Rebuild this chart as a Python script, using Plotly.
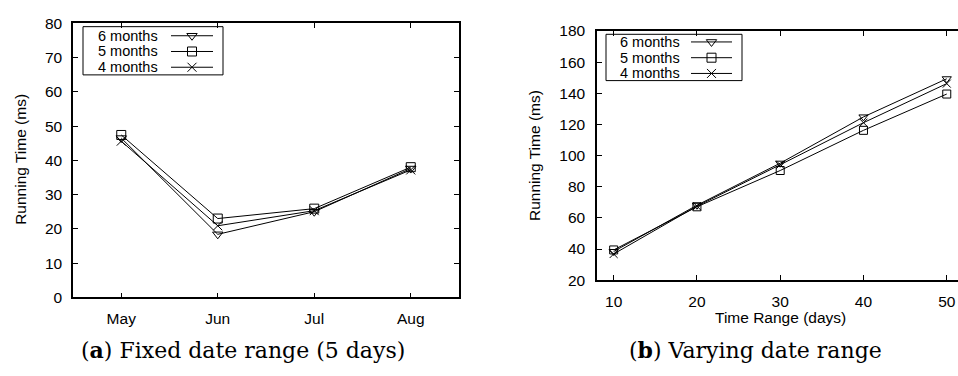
import plotly.graph_objects as go

W, H = 958, 376

# ---- data ----
months = ["May", "Jun", "Jul", "Aug"]
fixed_6 = [46.5, 18.4, 25.0, 37.6]
fixed_5 = [47.4, 23.0, 25.9, 38.0]
fixed_4 = [45.6, 20.9, 25.3, 37.2]

days = [10, 20, 30, 40, 50]
vary_6 = [38.4, 68.1, 95.1, 124.8, 149.3]
vary_5 = [39.4, 67.1, 90.4, 116.2, 139.5]
vary_4 = [36.8, 67.5, 94.1, 121.1, 146.2]

series_names = ["6 months", "5 months", "4 months"]
symbols = ["triangle-down-open", "square-open", "x-thin-open"]


def px(x):
    return x / W


def py(y):
    return 1 - y / H


FONT = "Liberation Sans, Arial, sans-serif"
TF = dict(family=FONT, size=15.5, color="black")
LF = dict(family=FONT, size=14.5, color="black")

fig = go.Figure()

for name, vals, sym in zip(series_names, [fixed_6, fixed_5, fixed_4], symbols):
    fig.add_trace(go.Scatter(x=months, y=vals, name=name, mode="lines+markers",
                             line=dict(color="black", width=1),
                             marker=dict(symbol=sym, size=9, color="black",
                                         line=dict(color="black", width=1)),
                             xaxis="x", yaxis="y", showlegend=False))

for name, vals, sym in zip(series_names, [vary_6, vary_5, vary_4], symbols):
    fig.add_trace(go.Scatter(x=days, y=vals, name=name, mode="lines+markers",
                             line=dict(color="black", width=1),
                             marker=dict(symbol=sym, size=8, color="black",
                                         line=dict(color="black", width=1)),
                             xaxis="x2", yaxis="y2", showlegend=False))

# ---- legend samples (gnuplot style: text, then line with marker) ----
legends = [
    dict(box=(83, 223, 18.5, 69), tx=159, lx=(171, 213), rows=(28, 44.5, 61), ax=("x3", "y3")),
    dict(box=(606, 742, 26.5, 75), tx=681, lx=(691, 732), rows=(34.5, 51, 67.5), ax=("x4", "y4")),
]
shapes = []
annotations = []
for lg in legends:
    bx0, bx1, by0, by1 = lg["box"]
    shapes.append(dict(type="rect", xref="paper", yref="paper",
                       x0=px(bx0), x1=px(bx1), y0=py(by1), y1=py(by0),
                       line=dict(color="black", width=1), fillcolor="white", layer="below"))
    for i, (name, sym) in enumerate(zip(series_names, symbols)):
        r = 2 - i
        annotations.append(dict(text=name, xref="paper", yref="paper",
                                x=px(lg["tx"]), y=py(lg["rows"][i]), xanchor="right",
                                yanchor="middle", showarrow=False, font=LF,
                                borderpad=0))
        fig.add_trace(go.Scatter(x=[0, 0.5, 1], y=[r, r, r], mode="lines+markers",
                                 line=dict(color="black", width=1),
                                 marker=dict(symbol=sym, size=9, color="black",
                                             opacity=[0, 1, 0],
                                             line=dict(color="black", width=1)),
                                 xaxis=lg["ax"][0], yaxis=lg["ax"][1], showlegend=False,
                                 hoverinfo="skip"))

axis_common = dict(showline=True, linecolor="black", linewidth=1.5, ticks="inside",
                   ticklen=5, tickcolor="black", tickwidth=1, showgrid=False,
                   zeroline=False, tickfont=TF)


def aux_axis(domain, rng, anchor):
    return dict(domain=domain, range=rng, visible=False, fixedrange=True, anchor=anchor)


lg0, lg1 = legends
sp0 = lg0["rows"][1] - lg0["rows"][0]
sp1 = lg1["rows"][1] - lg1["rows"][0]
fig.update_layout(
    width=W, height=H, margin=dict(l=0, r=0, t=0, b=0),
    paper_bgcolor="white", plot_bgcolor="rgba(0,0,0,0)",
    xaxis=dict(domain=[px(73), px(459)], anchor="y", type="category",
               range=[-0.5, 3.5], mirror="allticks", ticklabelstandoff=6, **axis_common),
    yaxis=dict(domain=[py(302), py(15)], anchor="x", range=[0, 80], dtick=10,
               mirror="allticks", ticklabelstandoff=6, **axis_common),
    xaxis2=dict(domain=[px(597), 1.0], anchor="y2", range=[8, 51.35], tickvals=days,
                mirror="allticks", ticklabelstandoff=6, **axis_common),
    yaxis2=dict(domain=[py(284), py(23)], anchor="x2", range=[20, 180], dtick=20,
                mirror=False, ticklabelstandoff=7, **axis_common),
    xaxis3=aux_axis([px(lg0["lx"][0]), px(lg0["lx"][1])], [0, 1], "y3"),
    yaxis3=aux_axis([py(lg0["rows"][2] + sp0 / 2), py(lg0["rows"][0] - sp0 / 2)], [-0.5, 2.5], "x3"),
    xaxis4=aux_axis([px(lg1["lx"][0]), px(lg1["lx"][1])], [0, 1], "y4"),
    yaxis4=aux_axis([py(lg1["rows"][2] + sp1 / 2), py(lg1["rows"][0] - sp1 / 2)], [-0.5, 2.5], "x4"),
    shapes=shapes,
)

# axis titles and captions
annotations += [
    dict(text="Running Time (ms)", xref="paper", yref="paper", x=px(21), y=py(158),
         textangle=-90, showarrow=False, font=TF, xanchor="center", yanchor="middle"),
    dict(text="Running Time (ms)", xref="paper", yref="paper", x=px(534), y=py(154),
         textangle=-90, showarrow=False, font=TF, xanchor="center", yanchor="middle"),
    dict(text="Time Range (days)", xref="paper", yref="paper", x=px(780), y=py(323),
         showarrow=False, font=TF, xanchor="center", yanchor="middle"),
    dict(text="(<b>a</b>) Fixed date range (5 days)", xref="paper", yref="paper",
         x=px(243), y=py(357), showarrow=False, xanchor="center", yanchor="middle",
         font=dict(family="DejaVu Serif, serif", size=22, color="black")),
    dict(text="(<b>b</b>) Varying date range", xref="paper", yref="paper",
         x=px(755), y=py(357), showarrow=False, xanchor="center", yanchor="middle",
         font=dict(family="DejaVu Serif, serif", size=22, color="black")),
]
fig.update_layout(annotations=annotations)

fig.write_html("out.html")
